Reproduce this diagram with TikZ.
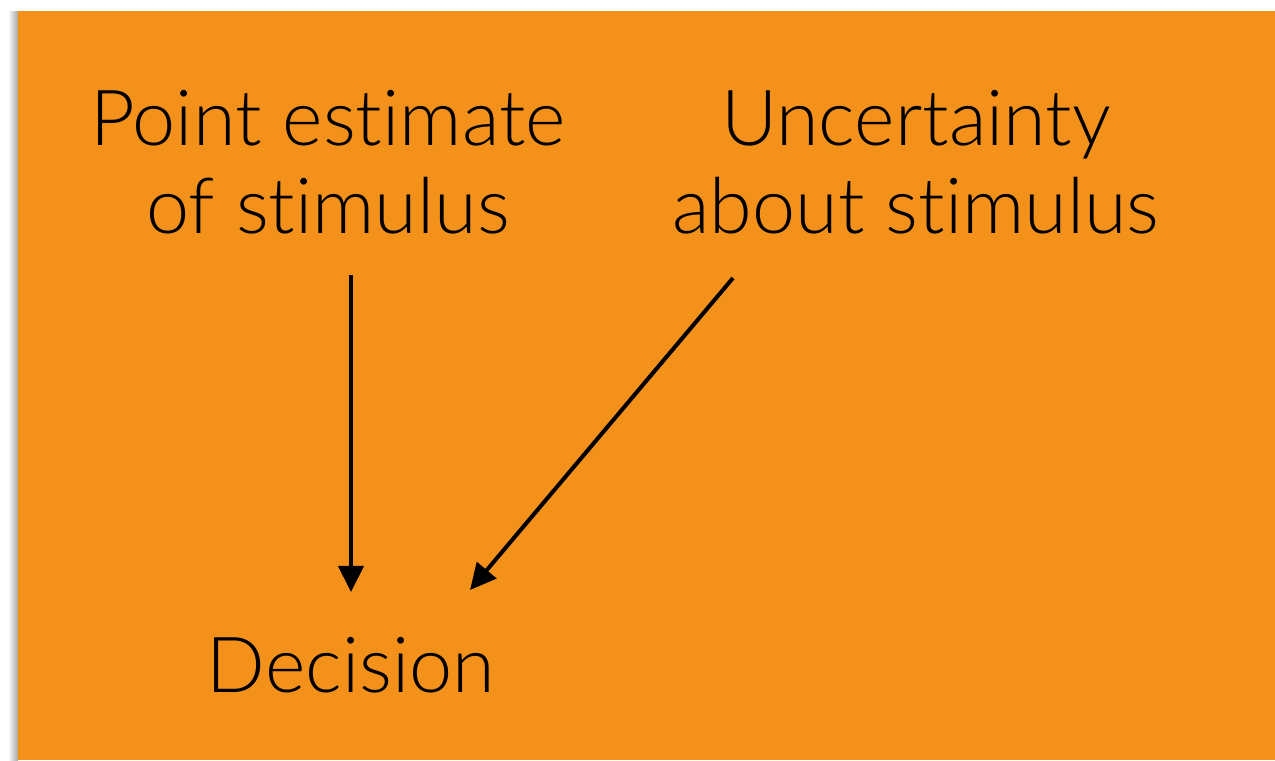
\documentclass[tikz,border=0pt]{standalone}
\usepackage{fontspec}
\setmainfont{Lato}[UprightFont=* Light, Ligatures={NoCommon}]
\usetikzlibrary{arrows.meta}
\definecolor{slideorange}{RGB}{243,145,27}
\tikzset{
  label text/.style={font=\fontsize{22}{26}\selectfont, align=center, inner sep=0pt, anchor=base},
  link/.style={line width=0.04cm, -{Triangle[length=0.26cm,width=0.25cm]}},
}
\begin{document}
\begin{tikzpicture}[x=0.01cm,y=-0.01cm]
  \useasboundingbox (0,0) rectangle (1275,760);
  % soft shadow along the slide's left edge
  \shade[left color=white, right color=black!35] (8,11) rectangle (18,760);
  \fill[slideorange] (18,11) rectangle (1275,760);
  % labels
  \node[label text] (p1) at (328,145) {Point estimate};
  \node[label text] (p2) at (328,233) {of stimulus};
  \node[label text] (u1) at (916,145) {Uncertainty};
  \node[label text] (u2) at (916,233) {about stimulus};
  \node[label text] (d) at (351,692) {Decision};
  % arrow ends
  \coordinate (a1) at (351,275);
  \coordinate (b1) at (351,592);
  \coordinate (a2) at (733,278);
  \coordinate (b2) at (470,590);
  \draw[link] (a1) -- (b1);
  \draw[link] (a2) -- (b2);
\end{tikzpicture}
\end{document}
